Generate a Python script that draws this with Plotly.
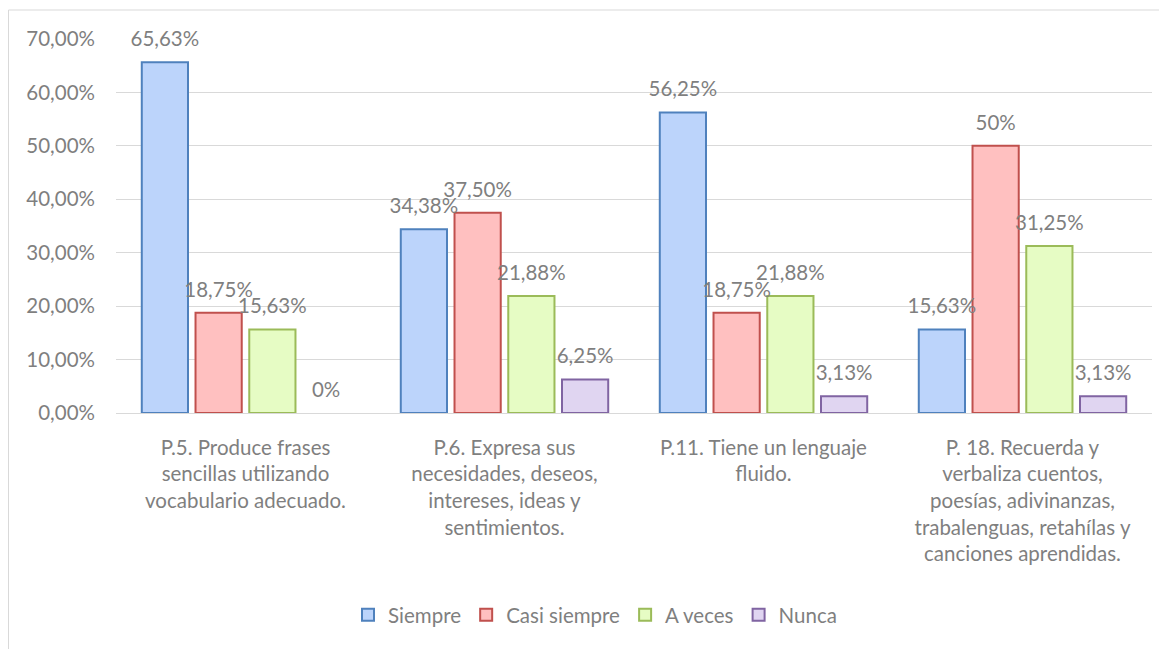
import plotly.graph_objects as go

categories = [
    "P.5. Produce frases<br>sencillas utilizando<br>vocabulario adecuado.",
    "P.6. Expresa sus<br>necesidades, deseos,<br>intereses, ideas y<br>sentimientos.",
    "P.11. Tiene un lenguaje<br>fluido.",
    "P. 18. Recuerda y<br>verbaliza cuentos,<br>poesías, adivinanzas,<br>trabalenguas, retahílas y<br>canciones aprendidas.",
]
series_names = ["Siempre", "Casi siempre", "A veces", "Nunca"]
siempre = [65.63, 34.38, 56.25, 15.63]
casi_siempre = [18.75, 37.50, 18.75, 50.0]
a_veces = [15.63, 21.88, 21.88, 31.25]
nunca = [0.0, 6.25, 3.13, 3.13]
siempre_labels = ["65,63%", "34,38%", "56,25%", "15,63%"]
casi_labels = ["18,75%", "37,50%", "18,75%", "50%"]
aveces_labels = ["15,63%", "21,88%", "21,88%", "31,25%"]
nunca_labels = ["0%", "6,25%", "3,13%", "3,13%"]
y_ticks = [0, 10, 20, 30, 40, 50, 60, 70]
y_tick_text = ["0,00%", "10,00%", "20,00%", "30,00%", "40,00%", "50,00%", "60,00%", "70,00%"]

values = [siempre, casi_siempre, a_veces, nunca]
labels = [siempre_labels, casi_labels, aveces_labels, nunca_labels]
fills = ["#bcd4fb", "#ffc0c0", "#e6fcc4", "#e0d5f1"]
borders = ["#4f81bd", "#c0504d", "#9bbb59", "#8064a2"]

FONT = "Lato"
FS = 20.5
GRAY = "#7f7f7f"
fig = go.Figure()
for i, (name, v, f, b) in enumerate(zip(series_names, values, fills, borders)):
    fig.add_trace(go.Bar(
        name=name, x=categories, y=[val if val > 0 else None for val in v],
        offsetgroup=str(i), alignmentgroup="a",
        marker=dict(color=f, line=dict(color=b, width=2)),
        hoverinfo="skip",
    ))
for i, (v, t) in enumerate(zip(values, labels)):
    fig.add_trace(go.Scatter(
        x=categories, y=v, text=t, mode="markers+text", textposition="top center",
        offsetgroup=str(i), alignmentgroup="a",
        marker=dict(size=16, opacity=0), cliponaxis=False,
        textfont=dict(family=FONT, size=FS, color=GRAY),
        showlegend=False, hoverinfo="skip",
    ))

L, R, T, B = 108, 15, 31, 236
W, H = 1159, 641
pw, ph = W - L - R, H - T - B

fig.update_layout(
    width=W, height=H,
    margin=dict(l=L, r=R, t=T, b=B),
    barmode="group", bargap=0.17, bargroupgap=0.14, scattermode="group",
    plot_bgcolor="white", paper_bgcolor="white",
    font=dict(family=FONT, size=FS, color=GRAY),
    showlegend=True,
    legend=dict(orientation="h", x=(587 - L) / pw, xanchor="center",
                y=(H - B - 607) / ph, yanchor="middle",
                font=dict(family=FONT, size=FS, color=GRAY),
                itemwidth=30, traceorder="normal"),
    xaxis=dict(showgrid=False, showline=True, linecolor="#d9d9d9", linewidth=1,
               tickfont=dict(family=FONT, size=FS, color=GRAY),
               ticklabelstandoff=16, fixedrange=True),
    yaxis=dict(range=[0, 70], tickvals=y_ticks, ticktext=y_tick_text,
               showgrid=True, gridcolor="#d9d9d9", gridwidth=1, zeroline=False,
               tickfont=dict(family=FONT, size=FS, color=GRAY),
               ticklabelstandoff=20, fixedrange=True),
    shapes=[dict(type="rect", xref="paper", yref="paper",
                 x0=(0 - L) / pw + 0.0005, x1=(W + 3 - L) / pw,
                 y0=(H - B - (H + 3)) / ph, y1=(H - B - 2) / ph,
                 line=dict(color="#d9d9d9", width=1), layer="below")],
)

fig.write_html("out.html")
